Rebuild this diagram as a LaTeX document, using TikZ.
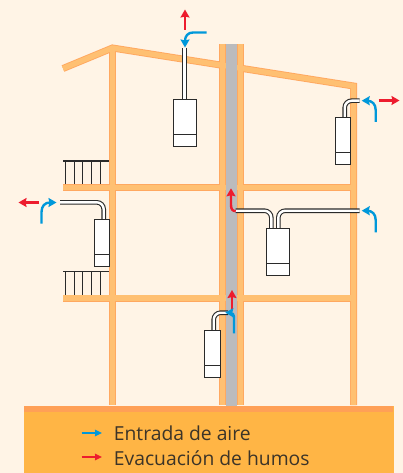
\documentclass[tikz,border=0pt]{standalone}
\usepackage{fontspec}
\setmainfont{Open Sans}
\usetikzlibrary{arrows.meta}
\definecolor{bgc}{HTML}{FFF4E6}
\definecolor{wallc}{HTML}{FFC072}
\definecolor{wallb}{HTML}{FFA860}
\definecolor{groundc}{HTML}{FFB545}
\definecolor{bandc}{HTML}{FFA057}
\definecolor{flue}{HTML}{BBBBBD}
\definecolor{redc}{HTML}{ED1C2E}
\definecolor{bluec}{HTML}{0098DA}
\definecolor{inkc}{HTML}{2A2A2A}
\definecolor{textc}{HTML}{3C3428}
\tikzset{
  wallo/.style={draw=wallb,line width=7pt,miter limit=10},
  walli/.style={draw=wallc,line width=5.2pt,miter limit=10},
  boiler/.style={draw=inkc,fill=white,line width=1pt},
  pipeo/.style={draw=inkc,line width=4.6pt,rounded corners=7pt},
  pipei/.style={draw=white,line width=2.4pt,rounded corners=7pt},
  rail/.style={draw=inkc,line width=1.4pt},
  bar/.style={draw=inkc,line width=.8pt},
  flow/.style={line width=2.4pt,-{Stealth[length=8pt,width=9pt,inset=1pt]}},
  blueflow/.style={flow,color=bluec},
  redflow/.style={flow,color=redc},
  keyflow/.style={line width=1.8pt,-{Stealth[length=7pt,width=6.5pt,inset=.5pt]}},
  keytext/.style={anchor=base west,inner sep=0pt,text=textc,font=\fontsize{19.3}{22}\selectfont}
}
\newcommand{\wallpaths}[1]{
  \draw[#1] (63,68.5) -- (112.5,48) -- (353.5,86) -- (353.5,405);
  \draw[#1] (112.5,48) -- (112.5,405);
  \draw[#1] (222.5,44) -- (222.5,405);
  \draw[#1] (240.5,44) -- (240.5,405);
  \draw[#1] (63,187.5) -- (353.5,187.5);
  \draw[#1] (63,298) -- (353.5,298);
}
\newcommand{\pipepaths}[1]{
  \draw[#1] (184.5,48) -- (184.5,100);
  \draw[#1] (359.5,100.7) -- (344.7,100.7) -- (344.7,117.5);
  \draw[#1] (60,202.3) -- (103.7,202.3) -- (103.7,219.5);
  \draw[#1] (235.5,210.7) -- (271.3,210.7) -- (271.3,228.5);
  \draw[#1] (359.5,210.7) -- (278.3,210.7) -- (278.3,228.5);
  \draw[#1] (228,312.7) -- (213.7,312.7) -- (213.7,330.5);
}
\begin{document}
\begin{tikzpicture}[x=1pt,y=-1pt]
\useasboundingbox (0,0) rectangle (403,473);
\fill[bgc] (0,0) rectangle (403,473);
% walls
\wallpaths{wallo}
\wallpaths{walli}
\fill[flue] (225.6,44) rectangle (237.4,406);
% ground
\fill[groundc] (24,406) rectangle (393.5,473);
\fill[bandc] (24,405.5) rectangle (393,411.5);
% balconies
\foreach \ytop/\ybot in {161/184,271.3/294.5}{
  \foreach \xb in {65.7,74,82.7,91.7,100.3}{
    \draw[bar] (\xb,\ytop) -- (\xb,\ybot);
  }
  \draw[rail] (63,\ytop) -- (109,\ytop);
}
% flue pipes
\pipepaths{pipeo}
\pipepaths{pipei}
% boilers
\draw[boiler] (173.3,100) rectangle (196.7,146.7);
\draw[boiler] (173.3,135) -- (196.7,135);
\draw[boiler] (335.7,117.3) rectangle (350.7,164.3);
\draw[boiler] (335.7,152.3) -- (350.7,152.3);
\draw[boiler] (94.3,219.3) rectangle (109.3,266.3);
\draw[boiler] (94.3,254.3) -- (109.3,254.3);
\draw[boiler] (266,228.3) rectangle (289.7,275);
\draw[boiler] (266,263.3) -- (289.7,263.3);
\draw[boiler] (204.7,330) rectangle (220,377);
\draw[boiler] (204.7,365.3) -- (220,365.3);
% flows
\draw[redflow] (185,30) -- (185,9.5);
\draw[blueflow] (206.5,32.5) -- (193,32.5) .. controls (188,32.5) and (185,36) .. (185,41) -- (185,47.5);
\draw[blueflow] (375.7,122) -- (375.7,110) .. controls (375.7,104) and (372,100.7) .. (367,100.7) -- (361.7,100.7);
\draw[redflow] (378.7,100.5) -- (399.5,100.5);
\draw[redflow] (39,202.5) -- (18.5,202.5);
\draw[blueflow] (41.5,223.7) -- (41.5,212) .. controls (41.5,206) and (45,202.5) .. (50,202.5) -- (56.5,202.5);
\draw[redflow] (235.7,211.2) .. controls (232.5,211.2) and (231,209) .. (231,205) -- (231,188.3);
\draw[blueflow] (375.7,232.3) -- (375.7,220) .. controls (375.7,214) and (372,210.7) .. (367,210.7) -- (361.7,210.7);
\draw[redflow] (232,311) -- (232,290);
\draw[blueflow] (234,333.3) -- (234,318) .. controls (234,314.5) and (232.5,312.7) .. (230,312.7) -- (225.3,312.7);
% key
\node[keytext] (airtext) at (113.7,440.7) {Entrada de aire};
\node[keytext] (humotext) at (113.7,465.7) {Evacuación de humos};
\coordinate (airstart) at (81.7,433);
\coordinate (humostart) at (81.7,457);
\draw[keyflow,color=bluec] (airstart) -- (102,433);
\draw[keyflow,color=redc] (humostart) -- (102,457);
\end{tikzpicture}
\end{document}
